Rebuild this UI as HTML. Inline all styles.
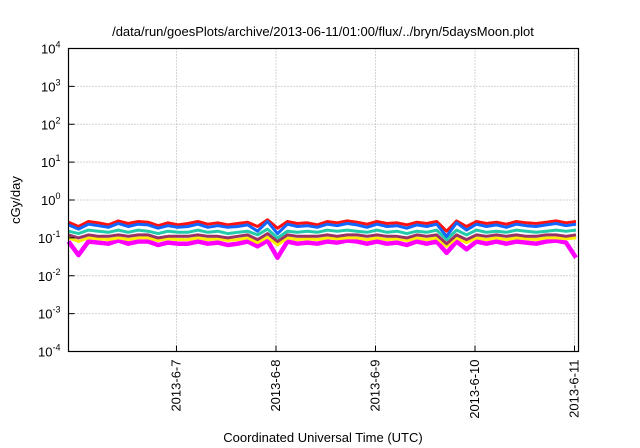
<!DOCTYPE html>
<html><head><meta charset="utf-8"><style>
body{margin:0;background:#fff;}
svg{display:block;font-family:"Liberation Sans",sans-serif;}
</style></head><body>
<svg id="chart" width="640" height="448" viewBox="0 0 640 448">
<text x="323" y="36" font-size="13" text-anchor="middle">/data/run/goesPlots/archive/2013-06-11/01:00/flux/../bryn/5daysMoon.plot</text>
<g id="grid"></g>
<g id="series"></g>
<rect x="68.5" y="48.5" width="510" height="303" fill="none" stroke="#000" stroke-width="1.2"/>
<g id="axes"></g>
<text transform="translate(20,200) rotate(-90)" font-size="13" text-anchor="middle">cGy/day</text>
<text x="323" y="442" font-size="13" text-anchor="middle">Coordinated Universal Time (UTC)</text>
</svg>
<script>
const yTickExps=[4,3,2,1,0,-1,-2,-3,-4];
const xTickDays=[0,1,2,3,4];
const xTickLabels=["2013-6-7","2013-6-8","2013-6-9","2013-6-10","2013-6-11"];
const tStart=-1.085, tStep=0.1;
const red=[0.26,0.2,0.27,0.25,0.22,0.28,0.24,0.27,0.26,0.21,0.25,0.22,0.24,0.27,0.23,0.25,0.22,0.24,0.26,0.2,0.3,0.18,0.27,0.24,0.25,0.22,0.27,0.25,0.28,0.26,0.23,0.27,0.24,0.25,0.22,0.26,0.24,0.27,0.15,0.28,0.2,0.27,0.24,0.26,0.23,0.27,0.25,0.24,0.26,0.28,0.25,0.27];
const blue=[0.22,0.17,0.23,0.21,0.19,0.24,0.2,0.23,0.22,0.18,0.21,0.19,0.2,0.23,0.19,0.21,0.19,0.2,0.22,0.15,0.27,0.13,0.23,0.2,0.21,0.19,0.23,0.21,0.24,0.22,0.19,0.23,0.2,0.21,0.18,0.22,0.2,0.23,0.11,0.25,0.16,0.23,0.2,0.22,0.19,0.23,0.21,0.2,0.22,0.24,0.21,0.23];
const teal=[0.15,0.13,0.16,0.15,0.14,0.16,0.14,0.16,0.15,0.13,0.15,0.14,0.14,0.16,0.14,0.15,0.13,0.14,0.15,0.12,0.17,0.1,0.15,0.14,0.15,0.14,0.16,0.15,0.16,0.15,0.14,0.16,0.14,0.15,0.13,0.15,0.14,0.16,0.09,0.16,0.12,0.16,0.14,0.15,0.14,0.16,0.15,0.14,0.15,0.16,0.15,0.16];
const purple=[0.12,0.1,0.12,0.11,0.11,0.12,0.11,0.12,0.12,0.1,0.11,0.11,0.11,0.12,0.11,0.11,0.1,0.11,0.12,0.09,0.13,0.08,0.12,0.11,0.11,0.11,0.12,0.11,0.12,0.12,0.11,0.12,0.11,0.11,0.1,0.12,0.11,0.12,0.07,0.12,0.09,0.12,0.11,0.12,0.11,0.12,0.11,0.11,0.12,0.12,0.11,0.12];
const yellow=[0.1,0.08,0.1,0.095,0.09,0.1,0.09,0.1,0.1,0.085,0.095,0.09,0.09,0.1,0.09,0.095,0.085,0.09,0.1,0.075,0.105,0.065,0.1,0.09,0.095,0.09,0.1,0.095,0.1,0.1,0.09,0.1,0.09,0.095,0.085,0.1,0.09,0.1,0.06,0.1,0.075,0.1,0.09,0.1,0.09,0.1,0.095,0.09,0.1,0.1,0.095,0.1];
const magenta=[0.08,0.035,0.08,0.075,0.07,0.085,0.07,0.08,0.08,0.065,0.075,0.07,0.07,0.08,0.07,0.075,0.065,0.07,0.08,0.06,0.085,0.03,0.08,0.07,0.075,0.07,0.08,0.075,0.085,0.08,0.07,0.08,0.07,0.075,0.065,0.08,0.07,0.08,0.04,0.08,0.05,0.08,0.07,0.08,0.07,0.08,0.075,0.07,0.08,0.085,0.075,0.03];
const seriesList=[["magenta-series",magenta,"#ff00ff",4.5],["yellow-series",yellow,"#ffee00",3],["purple-series",purple,"#993366",3],["teal-series",teal,"#22ccaa",3],["red-series",red,"#ff1111",3],["blue-series",blue,"#1166ff",3]];
const NS="http://www.w3.org/2000/svg";
const L=68.5,R=578.5,T=48.5,B=351.5;
const xScale=d=>L+(d-tStart)/(4.04-tStart)*(R-L);
const yScale=v=>T+(4-Math.log10(v))/8*(B-T);
const grid=document.getElementById('grid'),axes=document.getElementById('axes'),ser=document.getElementById('series');
function mk(tag,attrs,parent){const e=document.createElementNS(NS,tag);for(const k in attrs)e.setAttribute(k,attrs[k]);parent.appendChild(e);return e;}
yTickExps.forEach(e=>{
  const y=yScale(Math.pow(10,e));
  if(e<4&&e>-4){const g=mk('line',{x1:L,x2:R,y1:y,y2:y,stroke:'#aaa','stroke-dasharray':'1,2'},grid);
  
  }
  const tk=mk('line',{x1:L,x2:L+6,y1:y,y2:y,stroke:'#000'},axes);
  
  
  const t=mk('text',{x:L-8,y:y+5,'font-size':'13','text-anchor':'end'},axes);
  
  
  t.innerHTML='10<tspan dy="-6" font-size="9">'+e+'</tspan>';
});
xTickDays.forEach((d,i)=>{
  const x=xScale(d);
  const g=mk('line',{x1:x,x2:x,y1:T,y2:B,stroke:'#aaa','stroke-dasharray':'1,2'},grid);
  
  
  const tk=mk('line',{x1:x,x2:x,y1:B,y2:B-6,stroke:'#000'},axes);
  
  
  const t=mk('text',{transform:`translate(${x+4},${B+8}) rotate(-90)`,'font-size':'13','text-anchor':'end'},axes);
  
  
  t.textContent=xTickLabels[i];
});
seriesList.forEach(([name,vals,col,w])=>{
  const pts=vals.map((v,i)=>xScale(tStart+i*tStep).toFixed(1)+','+yScale(v).toFixed(1)).join(' ');
  const p=mk('polyline',{points:pts,fill:'none',stroke:col,'stroke-width':w,'stroke-linejoin':'round'},ser);
  
  
});
</script>
</body></html>
